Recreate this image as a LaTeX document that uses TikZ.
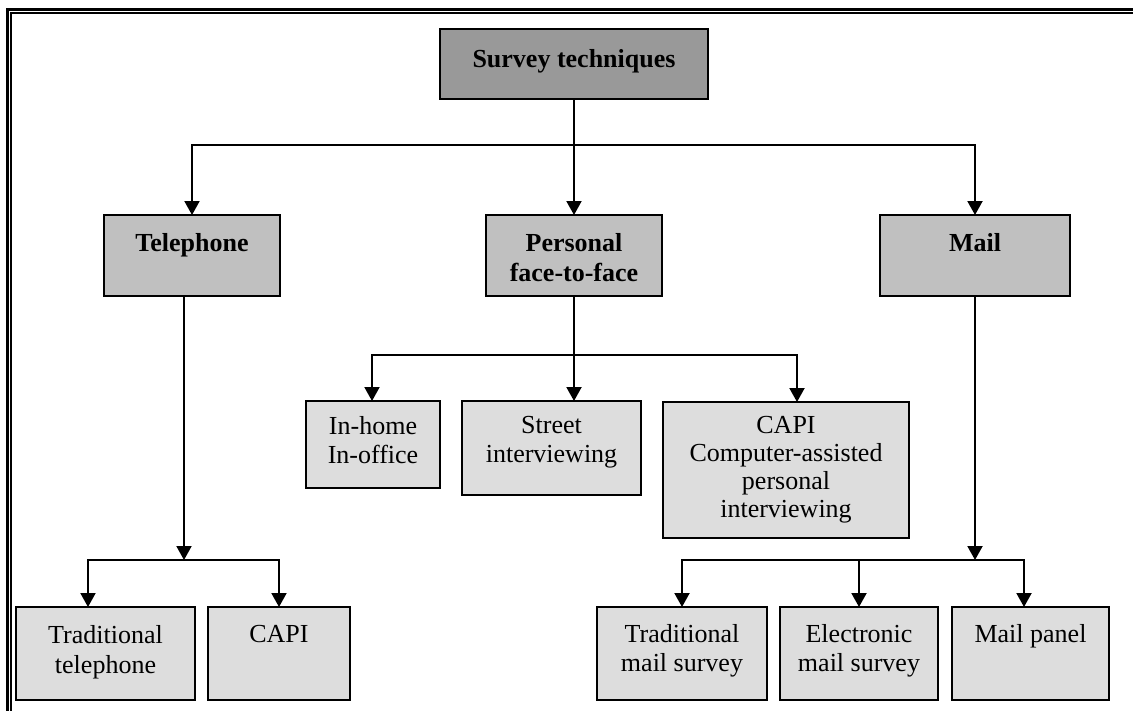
\documentclass[tikz,border=0pt]{standalone}
\usepackage{fontspec}
\setmainfont{Liberation Serif}
\usetikzlibrary{arrows.meta}
\definecolor{darkfill}{HTML}{999999}
\definecolor{midfill}{HTML}{C0C0C0}
\definecolor{lightfill}{HTML}{DDDDDD}
% \drawbox{style}{name}{x1}{y1}{x2}{y2}: a box from its top-left to its bottom-right corner
\newcommand\drawbox[6]{%
  \node[#1, minimum width={(#5-#3)*1pt}, minimum height={(#6-#4)*1pt}] (#2) at (#3,#4) {};}
\begin{document}
\begin{tikzpicture}[x=1pt,y=-1pt,
  box/.style={draw=black, line width=2pt, anchor=north west, inner sep=0pt, outer sep=0pt},
  rootbox/.style={box, fill=darkfill},
  groupbox/.style={box, fill=midfill},
  leafbox/.style={box, fill=lightfill},
  lbl/.style={anchor=north, inner sep=0pt, align=center, font={\fontsize{26}{29}\selectfont}},
  blbl/.style={lbl, font={\fontsize{26}{30}\selectfont\bfseries}},
  link/.style={line width=2pt, draw=black},
  arr/.style={link, -{Triangle[length=14pt,width=15pt]}},
]
\useasboundingbox (0,0) rectangle (1133,710);
\fill[white] (0,0) rectangle (1133,710);

% double page frame (top and left sides)
\draw[line width=2.7pt, line join=miter] (7.3,712) -- (7.3,9.3) -- (1135,9.3);
\draw[line width=1.8pt, line join=miter] (11,712) -- (11,13.2) -- (1135,13.2);

% boxes
\drawbox{rootbox}{root}{440}{29}{708}{99}
\drawbox{groupbox}{tel}{104}{215}{280}{296}
\drawbox{groupbox}{pers}{486}{215}{662}{296}
\drawbox{groupbox}{mail}{880}{215}{1070}{296}

\drawbox{leafbox}{home}{306}{401}{440}{488}
\drawbox{leafbox}{street}{462}{401}{641}{495}
\drawbox{leafbox}{capi}{663}{402}{909}{538}

\drawbox{leafbox}{tradtel}{16}{607}{195}{700}
\drawbox{leafbox}{capitel}{208}{607}{350}{700}
\drawbox{leafbox}{tradmail}{597}{607}{767}{700}
\drawbox{leafbox}{email}{780}{607}{938}{700}
\drawbox{leafbox}{panel}{952}{607}{1109}{700}

% labels
\node[blbl] (root-t) at ([yshift=-20pt]root.north) {Survey techniques};
\node[blbl] (tel-t) at ([yshift=-18pt]tel.north) {Telephone};
\node[blbl] (pers-t) at ([yshift=-18pt]pers.north) {Personal\\face-to-face};
\node[blbl] (mail-t) at ([yshift=-18pt]mail.north) {Mail};

\node[lbl] (home-t) at ([yshift=-15pt]home.north) {In-home\\In-office};
\node[lbl] (street-t) at ([yshift=-15pt]street.north) {Street\\interviewing};
\node[lbl, font={\fontsize{26}{28}\selectfont}] (capi-t) at ([yshift=-14pt]capi.north)
  {CAPI\\Computer-assisted\\personal\\interviewing};

\node[lbl, font={\fontsize{26}{30}\selectfont}] (tradtel-t) at ([yshift=-18pt]tradtel.north) {Traditional\\telephone};
\node[lbl] (capitel-t) at ([yshift=-18pt]capitel.north) {CAPI};
\node[lbl] (tradmail-t) at ([yshift=-17pt]tradmail.north) {Traditional\\mail survey};
\node[lbl] (email-t) at ([yshift=-17pt]email.north) {Electronic\\mail survey};
\node[lbl] (panel-t) at ([yshift=-17pt]panel.north) {Mail panel};

% junction points
\coordinate (rootj) at (574,145);
\coordinate (telj) at (184,560);
\coordinate (persj) at (574,355);
\coordinate (mailj) at (975,560);
\coordinate (xhome) at (372,0);
\coordinate (xcapi) at (797,0);
\coordinate (xtradtel) at (88,0);
\coordinate (xpanel) at (1024,0);

% first level
\draw[link] (root.south -| rootj) -- (rootj);
\draw[arr] (rootj) -| (tel.north);
\draw[arr] (rootj) -| (mail.north);
\draw[arr] (rootj) -- (pers.north);

% telephone branch
\draw[arr] (tel.south -| telj) -- (telj);
\draw[arr] (telj) -| (tradtel.north -| xtradtel);
\draw[arr] (telj) -| (capitel.north);

% personal branch
\draw[arr] (pers.south) -- (street.north -| pers.south);
\draw[arr] (persj) -| (home.north -| xhome);
\draw[arr] (persj) -| (capi.north -| xcapi);

% mail branch
\draw[arr] (mail.south) -- (mailj);
\draw[arr] (mailj) -| (tradmail.north);
\draw[arr] (mailj) -| (email.north);
\draw[arr] (mailj) -| (panel.north -| xpanel);
\end{tikzpicture}
\end{document}
